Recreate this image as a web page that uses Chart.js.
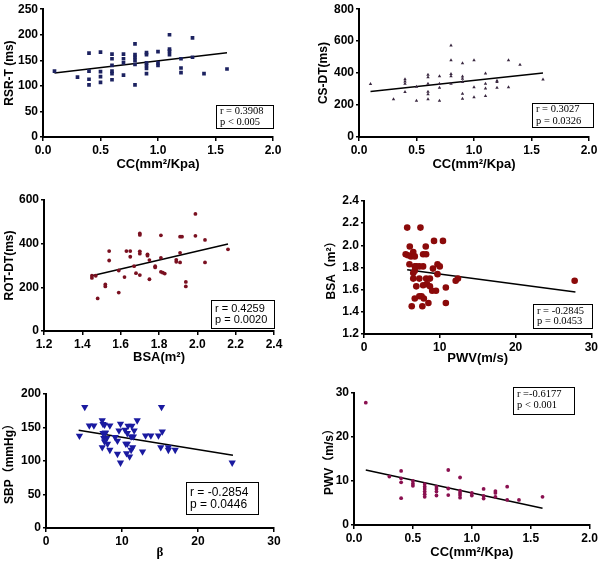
<!DOCTYPE html>
<html lang="en">
<head>
<meta charset="utf-8">
<title>Correlation panels</title>
<script src="https://cdn.jsdelivr.net/npm/chart.js"></script>
<style>
    body { margin: 0; padding: 0; background: #fff; }
    .page { position: relative; width: 600px; height: 561px; }
    .page canvas { position: absolute; }
</style>
</head>
<body>
<div class="page">
    <canvas id="p1" width="300" height="185" style="left:0;top:0"></canvas>
    <canvas id="p2" width="300" height="185" style="left:300px;top:0"></canvas>
    <canvas id="p3" width="300" height="185" style="left:0;top:185px"></canvas>
    <canvas id="p4" width="300" height="185" style="left:300px;top:185px"></canvas>
    <canvas id="p5" width="300" height="191" style="left:0;top:370px"></canvas>
    <canvas id="p6" width="300" height="191" style="left:300px;top:370px"></canvas>
</div>
<script>
// --- data ---
// RSR-T vs CC
const rsrCC = [0.1,0.3,0.4,0.4,0.4,0.4,0.5,0.5,0.5,0.5,0.6,0.6,0.6,0.6,0.6,0.6,0.7,0.7,0.7,0.7,0.8,0.8,0.8,0.8,0.8,0.8,0.9,0.9,0.9,0.9,0.9,0.9,1.0,1.0,1.0,1.1,1.1,1.1,1.1,1.2,1.2,1.2,1.3,1.3,1.4,1.6];
const rsrT = [129,117,164,129,113,102,166,128,118,107,162,153,140,129,124,112,162,153,145,121,182,161,156,150,142,102,165,161,145,140,134,124,167,145,140,200,172,168,161,153,135,126,194,156,124,133];
const rsrFitX = [0.1, 1.6];
const rsrFitY = [125, 165];

// CS-DT vs CC
const csCC = [0.1,0.3,0.4,0.4,0.4,0.4,0.5,0.5,0.6,0.6,0.6,0.6,0.6,0.6,0.7,0.7,0.7,0.7,0.8,0.8,0.8,0.8,0.8,0.9,0.9,0.9,0.9,0.9,0.9,1.0,1.0,1.0,1.1,1.1,1.1,1.1,1.2,1.2,1.2,1.3,1.3,1.4,1.6];
const csDT = [332,237,362,348,334,281,314,227,389,374,334,283,267,237,381,334,308,227,573,480,395,381,334,462,379,364,344,271,239,480,312,249,397,334,304,257,352,344,308,480,312,453,360];
const csFitX = [0.1, 1.6];
const csFitY = [285, 401];

// ROT-DT vs BSA
const rotBSA = [1.45,1.45,1.47,1.48,1.52,1.52,1.54,1.54,1.59,1.59,1.62,1.63,1.65,1.65,1.67,1.68,1.70,1.70,1.70,1.70,1.70,1.74,1.74,1.75,1.75,1.78,1.78,1.81,1.81,1.81,1.82,1.83,1.89,1.89,1.91,1.92,1.91,1.91,1.94,1.94,1.99,1.99,2.04,2.04,2.16];
const rotDT = [243,253,253,149,213,204,366,323,277,176,247,366,366,340,297,265,447,440,365,354,256,351,345,325,237,297,291,438,335,271,267,263,326,317,432,432,358,314,225,204,536,436,417,314,374];
const rotFitX = [1.45, 2.16];
const rotFitY = [253, 398];

// BSA vs PWV
const bsaPWV = [5.7,7.45,6.04,9.24,10.42,8.15,5.5,5.8,6.2,6.5,6.7,7.8,8.2,6.0,6.7,6.9,7.3,7.8,9.1,9.7,10.0,6.5,6.7,9.7,6.5,7.3,8.2,8.7,12.1,12.4,6.9,7.8,8.3,8.7,9.0,9.5,10.8,6.7,7.3,7.6,7.9,6.3,7.7,8.5,10.8,27.8];
const bsaVal = [2.16,2.16,1.99,2.04,2.04,1.99,1.92,1.91,1.90,1.94,1.90,1.92,1.92,1.83,1.81,1.81,1.81,1.81,1.79,1.83,1.81,1.75,1.77,1.74,1.70,1.70,1.70,1.70,1.68,1.70,1.63,1.64,1.65,1.63,1.59,1.59,1.62,1.52,1.54,1.54,1.52,1.45,1.45,1.48,1.48,1.68];
const bsaFitX = [5.7, 27.9];
const bsaFitY = [1.779, 1.578];

// SBP vs beta
const sbpBeta = [4.4,5.1,5.7,6.3,7.4,7.5,7.7,7.5,7.8,7.6,8.0,7.7,8.1,7.4,7.8,8.4,8.4,9.1,9.4,9.4,9.6,9.8,9.8,10.4,10.5,10.7,10.7,10.6,10.8,11.0,11.2,11.3,11.2,11.4,11.5,11.6,12.0,12.7,13.1,13.8,14.8,15.2,15.3,15.1,16.1,16.1,17.0,24.5];
const sbpVal = [137.5,180.5,153,153,160.5,155,154,141.5,142.5,134,134,129,125.5,120.5,141.5,153,116.5,135.5,130,110.5,145.5,155.5,97.5,146.5,125.5,141.5,125.5,111.5,152.5,106.5,136.5,152.5,116.5,120.5,136.5,145.5,160.5,114,138,138,138,180.5,144,120.5,120.5,116.5,116.5,97.5];
const sbpFitX = [4.3, 24.6];
const sbpFitY = [146, 108.5];

// PWV vs CC
const pwvCC = [0.1,0.3,0.4,0.4,0.4,0.4,0.5,0.5,0.5,0.6,0.6,0.6,0.6,0.6,0.6,0.7,0.7,0.7,0.7,0.8,0.8,0.8,0.9,0.9,0.9,0.9,0.9,1.0,1.0,1.1,1.1,1.1,1.2,1.2,1.2,1.3,1.3,1.4,1.6];
const pwvVal = [27.8,11.0,12.3,10.6,9.7,6.1,10.0,9.4,8.9,9.3,8.7,8.2,7.6,7.0,6.4,8.7,8.2,7.6,6.7,12.5,8.3,6.8,10.8,7.8,7.3,6.8,6.2,7.3,6.7,8.2,6.6,6.0,7.7,7.3,6.4,8.7,5.7,5.7,6.4];
const pwvFitX = [0.1, 1.6];
const pwvFitY = [12.5, 3.8];

// boxed r / p text
const statBox = {
    id: 'statBox',
    afterDraw(chart, args, o) {
        if (!o.lines) return;
        const ctx = chart.ctx;
        ctx.save();
        ctx.strokeStyle = '#000';
        ctx.lineWidth = 1;
        ctx.strokeRect(o.x + 0.5, o.y + 0.5, o.w, o.h);
        ctx.fillStyle = '#000';
        ctx.font = o.font;
        ctx.textBaseline = 'middle';
        o.lines.forEach((t, i) => ctx.fillText(t, o.x + 4, o.lineY[i]));
        ctx.restore();
    }
};

function pts(xs, ys) {
    return xs.map((x, i) => ({ x: x, y: ys[i] }));
}

function panel(id, o) {
    const h = document.getElementById(id).height;
    const tickFont = { family: 'Liberation Sans, Arial', weight: 'bold', size: 12 };
    new Chart(document.getElementById(id), {
        type: 'scatter',
        data: {
            datasets: [{
                data: pts(o.xs, o.ys),
                pointStyle: o.style,
                pointRotation: o.rotation || 0,
                pointRadius: o.radius,
                backgroundColor: o.color,
                borderColor: o.color,
                borderWidth: 0
            }, {
                type: 'line',
                data: pts(o.fitX, o.fitY),
                borderColor: '#000',
                borderWidth: 1.5,
                pointRadius: 0
            }]
        },
        options: {
            responsive: false,
            animation: false,
            layout: { padding: { top: o.area.top, right: 300 - o.area.right, left: 0, bottom: 0 } },
            plugins: { legend: { display: false }, tooltip: { enabled: false }, statBox: o.box },
            scales: {
                x: {
                    type: 'linear', min: o.xMin, max: o.xMax,
                    afterFit: s => { s.height = h - o.area.bottom; },
                    border: { color: '#000', width: 2 },
                    grid: { drawOnChartArea: false, tickLength: 4, color: '#000', lineWidth: 1.5 },
                    ticks: {
                        stepSize: o.xStep, color: '#000', font: tickFont, padding: 2, maxRotation: 0,
                        callback: v => v.toFixed(o.xDec)
                    },
                    title: {
                        display: true, text: o.xTitle, color: '#000',
                        font: o.xTitleFont || { family: 'Liberation Sans, Arial', weight: 'bold', size: 13 },
                        padding: { top: 0, bottom: o.xTitlePad }
                    }
                },
                y: {
                    min: o.yMin, max: o.yMax,
                    afterFit: s => { s.width = o.area.left; },
                    border: { color: '#000', width: 2 },
                    grid: { drawOnChartArea: false, tickLength: 3, color: '#000', lineWidth: 1.5 },
                    ticks: {
                        stepSize: o.yStep, color: '#000', font: tickFont, padding: 2,
                        callback: v => v.toFixed(o.yDec)
                    },
                    title: {
                        display: true, text: o.yTitle, color: '#000',
                        font: { family: 'Liberation Sans, Arial, Noto Sans CJK SC', weight: 'bold', size: 12 },
                        padding: { top: o.yTitlePad, bottom: 0 }
                    }
                }
            }
        },
        plugins: [statBox]
    });
}

const serif = '10.5px "Liberation Serif", "Times New Roman", serif';

panel('p1', {
    xs: rsrCC, ys: rsrT, fitX: rsrFitX, fitY: rsrFitY,
    style: 'rect', radius: 2.6, color: '#1c2260',
    area: { left: 43, top: 6, right: 273, bottom: 137 },
    xMin: 0, xMax: 2, xStep: 0.5, xDec: 1, yMin: 0, yMax: 250, yStep: 50, yDec: 0,
    xTitle: 'CC(mm²/Kpa)', yTitle: 'RSR-T (ms)', xTitlePad: 13, yTitlePad: 2,
    box: { x: 216, y: 105, w: 57, h: 23, font: serif, lines: ['r = 0.3908', 'p < 0.005'], lineY: [111, 122] }
});

panel('p2', {
    xs: csCC, ys: csDT, fitX: csFitX, fitY: csFitY,
    style: 'triangle', radius: 2, color: '#3a2840',
    area: { left: 59, top: 5, right: 289, bottom: 137 },
    xMin: 0, xMax: 2, xStep: 0.5, xDec: 1, yMin: 0, yMax: 800, yStep: 200, yDec: 0,
    xTitle: 'CC(mm²/Kpa)', yTitle: 'CS-DT(ms)', xTitlePad: 13, yTitlePad: 16,
    box: { x: 232, y: 103, w: 61, h: 24, font: serif, lines: ['r = 0.3027', 'p = 0.0326'], lineY: [109, 121] }
});

panel('p3', {
    xs: rotBSA, ys: rotDT, fitX: rotFitX, fitY: rotFitY,
    style: 'circle', radius: 1.9, color: '#7a1020',
    area: { left: 44, top: 15, right: 274, bottom: 146 },
    xMin: 1.2, xMax: 2.4, xStep: 0.2, xDec: 1, yMin: 0, yMax: 600, yStep: 200, yDec: 0,
    xTitle: 'BSA(m²)', yTitle: 'ROT-DT(ms)', xTitlePad: 5, yTitlePad: 2,
    box: { x: 211, y: 115, w: 63, h: 28, font: '11px "Liberation Sans", Arial, sans-serif', lines: ['r = 0.4259', 'p = 0.0020'], lineY: [124, 135] }
});

panel('p4', {
    xs: bsaPWV, ys: bsaVal, fitX: bsaFitX, fitY: bsaFitY,
    style: 'circle', radius: 3.3, color: '#8b0a0a',
    area: { left: 64, top: 16, right: 292, bottom: 149 },
    xMin: 0, xMax: 30, xStep: 10, xDec: 0, yMin: 1.2, yMax: 2.4, yStep: 0.2, yDec: 1,
    xTitle: 'PWV(m/s)', yTitle: 'BSA（m²）', xTitlePad: 4, yTitlePad: 24,
    box: { x: 233, y: 119, w: 59, h: 24, font: serif, lines: ['r = -0.2845', 'p = 0.0453'], lineY: [126, 136] }
});

panel('p5', {
    xs: sbpBeta, ys: sbpVal, fitX: sbpFitX, fitY: sbpFitY,
    style: 'triangle', rotation: 180, radius: 4.2, color: '#1a1aa0',
    area: { left: 46, top: 24, right: 274, bottom: 158 },
    xMin: 0, xMax: 30, xStep: 10, xDec: 0, yMin: 0, yMax: 200, yStep: 50, yDec: 0,
    xTitle: 'β', yTitle: 'SBP（mmHg）', xTitlePad: 1, yTitlePad: 2,
    xTitleFont: { family: 'Liberation Serif, serif', weight: 'bold', size: 13 },
    box: { x: 186, y: 112, w: 72, h: 32, font: '12px "Liberation Sans", Arial, sans-serif', lines: ['r = -0.2854', 'p = 0.0446'], lineY: [123, 135] }
});

panel('p6', {
    xs: pwvCC, ys: pwvVal, fitX: pwvFitX, fitY: pwvFitY,
    style: 'circle', radius: 1.9, color: '#8a1050',
    area: { left: 54, top: 23, right: 291, bottom: 155 },
    xMin: 0, xMax: 2, xStep: 0.5, xDec: 1, yMin: 0, yMax: 30, yStep: 10, yDec: 0,
    xTitle: 'CC(mm²/Kpa)', yTitle: 'PWV（m/s）', xTitlePad: 1, yTitlePad: 22,
    box: { x: 213, y: 17, w: 61, h: 27, font: serif, lines: ['r =-0.6177', 'p < 0.001'], lineY: [24, 35] }
});
</script>
</body>
</html>
